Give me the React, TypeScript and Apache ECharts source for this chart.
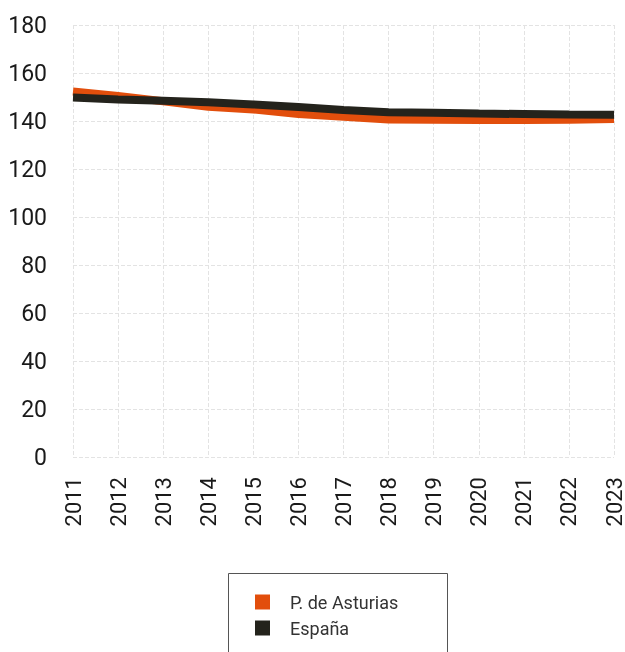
import React, { useEffect, useRef } from "react";
import * as echarts from "echarts";

const years = ["2011","2012","2013","2014","2015","2016","2017","2018","2019","2020","2021","2022","2023"];
const asturias = [152.3, 150.4, 148.2, 145.9, 144.8, 142.9, 141.8, 140.6, 140.5, 140.4, 140.4, 140.5, 140.8];
const espana = [149.8, 149.0, 148.4, 147.8, 146.9, 145.8, 144.6, 143.6, 143.4, 143.1, 142.9, 142.7, 142.6];
const seriesNames = ["P. de Asturias", "España"];
const colors = ["#e24e0c", "#24231c"];

export default function App() {
  const ref = useRef<HTMLDivElement>(null);
  useEffect(() => {
    const chart = echarts.init(ref.current!, null, { renderer: "svg" });
    chart.setOption({
      animation: false,
      textStyle: { fontFamily: "Roboto" },
      grid: { left: 73, right: 9, top: 25, bottom: 195, containLabel: false },
      xAxis: {
        type: "category",
        data: years,
        boundaryGap: false,
        axisLine: { show: false },
        axisTick: { show: false },
        axisLabel: { rotate: 90, fontSize: 22, color: "#1a1a1a", margin: 20, fontFamily: "Roboto" },
        splitLine: { show: true, lineStyle: { type: "dashed", color: "#e3e3e3", width: 1 } },
      },
      yAxis: {
        type: "value",
        min: 0,
        max: 180,
        interval: 20,
        axisLine: { show: false },
        axisTick: { show: false },
        axisLabel: { fontSize: 23, color: "#1a1a1a", margin: 26, fontFamily: "Roboto" },
        splitLine: { show: true, lineStyle: { type: "dashed", color: "#e3e3e3", width: 1 } },
      },
      graphic: [
        {
          type: "rect",
          shape: { x: 228.5, y: 573.5, width: 219, height: 120 },
          style: { fill: "#fff", stroke: "#555", lineWidth: 1 },
          z: 0,
        },
      ],
      legend: {
        orient: "vertical",
        left: 255,
        top: 593,
        padding: 0,
        itemWidth: 15,
        itemHeight: 15,
        itemGap: 8,
        icon: "rect",
        z: 10,
        textStyle: { fontSize: 18, color: "#333", fontFamily: "Roboto", padding: [0, 0, 0, 15] },
        data: seriesNames,
      },
      series: [
        {
          name: seriesNames[0],
          type: "line",
          data: asturias,
          symbol: "none",
          lineStyle: { width: 8, color: colors[0] },
          itemStyle: { color: colors[0] },
        },
        {
          name: seriesNames[1],
          type: "line",
          data: espana,
          symbol: "none",
          lineStyle: { width: 8, color: colors[1] },
          itemStyle: { color: colors[1] },
        },
      ],
    });
    return () => chart.dispose();
  }, []);
  return <div ref={ref} style={{ position: "fixed", left: 0, top: 0, width: 625, height: 652 }} />;
}
